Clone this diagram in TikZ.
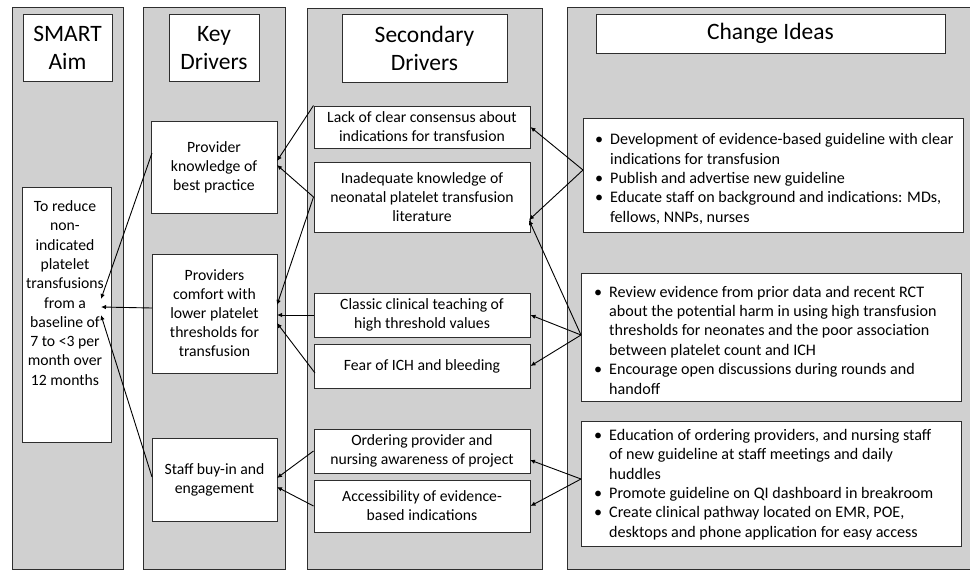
\documentclass[tikz,border=0pt]{standalone}
\usepackage{fontspec}
\setmainfont{Carlito}
\usetikzlibrary{arrows.meta}
\definecolor{panel}{HTML}{D0D0D0}
\definecolor{edge}{HTML}{2E2E2E}
\newcommand{\bitem}{\makebox[15pt][l]{\textbullet}}
\newcommand{\bcont}{\hspace*{15pt}}
\begin{document}
\begin{tikzpicture}[x=1pt,y=-1pt,
  panelbox/.style={draw=edge, line width=1pt, fill=panel},
  box/.style={draw=edge, line width=1pt, fill=white, inner sep=0pt},
  head/.style={box, font=\fontsize{23.5}{28}\selectfont, align=center},
  txtbox/.style={box, font=\fontsize{15.7}{19}\selectfont, align=center},
  txt/.style={font=\fontsize{15.7}{19.3}\selectfont, inner sep=0pt},
  citxt/.style={font=\fontsize{16.1}{19.4}\selectfont, inner sep=0pt, align=left, anchor=west},
  arr/.style={draw=black, line width=0.9pt, -{Latex[length=5pt,width=4.5pt]}}
]
\clip (0,0) rectangle (970,571);
\fill[white] (0,0) rectangle (970,571);

% column panels
\draw[panelbox] (12,7) rectangle (123,569);
\draw[panelbox] (143,7) rectangle (285,569);
\draw[panelbox] (307,8) rectangle (542,569);
\draw[panelbox] (567,7) rectangle (980,569);

% headers
\node[head, minimum width=89pt, minimum height=67pt] (h1) at (67.5,48) {SMART\\Aim};
\node[head, minimum width=90pt, minimum height=67pt] (h2) at (214,48) {Key\\Drivers};
\node[head, minimum width=165pt, minimum height=68pt] (h3) at (424.5,48) {Secondary\\Drivers};
\node[head, minimum width=349pt, minimum height=39pt] (h4) at (770.5,33.5) {Change Ideas};

% SMART aim
\node[box, minimum width=89pt, minimum height=255pt] (aim) at (66.5,314.5) {};
\node[txt, align=center] (aimtxt) at (65,293) {To reduce\\non-\\indicated\\platelet\\transfusions\\from a\\baseline of\\7 to <3 per\\month over\\12 months};

% key drivers
\node[txtbox, minimum width=126pt, minimum height=92pt] (kd1) at (214,167) {Provider\\knowledge of\\best practice};
\node[txtbox, minimum width=125pt, minimum height=119pt] (kd2) at (214.5,313.5) {Providers\\comfort with\\lower platelet\\thresholds for\\transfusion};
\node[txtbox, minimum width=125pt, minimum height=83pt] (kd3) at (214.5,479.5) {Staff buy-in and\\engagement};

% secondary drivers
\node[txtbox, minimum width=216pt, minimum height=42pt] (sd1) at (422,127) {Lack of clear consensus about\\indications for transfusion};
\node[txtbox, minimum width=216pt, minimum height=70pt] (sd2) at (422,197) {Inadequate knowledge of\\neonatal platelet transfusion\\literature};
\node[txtbox, minimum width=216pt, minimum height=44pt] (sd3) at (422,315) {Classic clinical teaching of\\high threshold values};
\node[txtbox, minimum width=216pt, minimum height=44pt] (sd4) at (422,366) {Fear of ICH and bleeding};
\node[txtbox, minimum width=216pt, minimum height=44pt] (sd5) at (422,451) {Ordering provider and\\nursing awareness of project};
\node[txtbox, minimum width=216pt, minimum height=52pt] (sd6) at (422,506) {Accessibility of evidence-\\based indications};

% change ideas
\node[box, minimum width=380pt, minimum height=114pt] (ci1) at (773,175) {};
\node[box, minimum width=380pt, minimum height=128pt] (ci2) at (771,337) {};
\node[box, minimum width=380pt, minimum height=125pt] (ci3) at (771,483.5) {};

\node[citxt] (ci1t) at (595,179) {\bitem Development of evidence-based guideline with clear\\\bcont indications for transfusion\\\bitem Publish and advertise new guideline\\\bitem Educate staff on background and indications: MDs,\\\bcont fellows, NNPs, nurses};
\node[citxt] (ci2t) at (594,340) {\bitem Review evidence from prior data and recent RCT\\\bcont about the potential harm in using high transfusion\\\bcont thresholds for neonates and the poor association\\\bcont between platelet count and ICH\\\bitem Encourage open discussions during rounds and\\\bcont handoff};
\node[citxt] (ci3t) at (594,484.5) {\bitem Education of ordering providers, and nursing staff\\\bcont of new guideline at staff meetings and daily\\\bcont huddles\\\bitem Promote guideline on QI dashboard in breakroom\\\bitem Create clinical pathway located on EMR, POE,\\\bcont desktops and phone application for easy access};

% connector coordinates
\coordinate (c1) at (583,170);
\coordinate (c2) at (581,335);
\coordinate (c3) at (581,479);
\coordinate (sd2in) at (529,220);
\coordinate (sd5in) at (530,460);
\coordinate (kd1a) at (277,161);
\coordinate (kd1b) at (277,165);
\coordinate (kd2a) at (277,305);
\coordinate (kd2b) at (277,315);
\coordinate (kd2c) at (277,323);
\coordinate (kd3a) at (277,478);
\coordinate (kd3b) at (277,487);
\coordinate (kd1out) at (152,153);
\coordinate (kd2out) at (152,308);
\coordinate (kd3out) at (152,477);
\coordinate (sd4out) at (315,373);
\coordinate (aima) at (101,299);
\coordinate (aimb) at (101,307);
\coordinate (aimc) at (101,315);

% change ideas -> secondary drivers
\draw[arr] (c1) -- (sd1.east);
\draw[arr] (c1) -- (sd2in);
\draw[arr] (c2) -- (sd2in);
\draw[arr] (c2) -- (sd3.east);
\draw[arr] (c2) -- (sd4.east);
\draw[arr] (c3) -- (sd5in);
\draw[arr] (c3) -- (sd6.east);

% secondary -> key drivers
\draw[arr] (sd1.north west) -- (kd1a);
\draw[arr] (sd2.west) -- (kd1b);
\draw[arr] (sd2.west) -- (kd2a);
\draw[arr] (sd3.west) -- (kd2b);
\draw[arr] (sd4out) -- (kd2c);
\draw[arr] (sd5.west) -- (kd3a);
\draw[arr] (sd6.west) -- (kd3b);

% key drivers -> aim
\draw[arr] (kd1out) -- (aima);
\draw[arr] (kd2out) -- (aimb);
\draw[arr] (kd3out) -- (aimc);
\end{tikzpicture}
\end{document}
